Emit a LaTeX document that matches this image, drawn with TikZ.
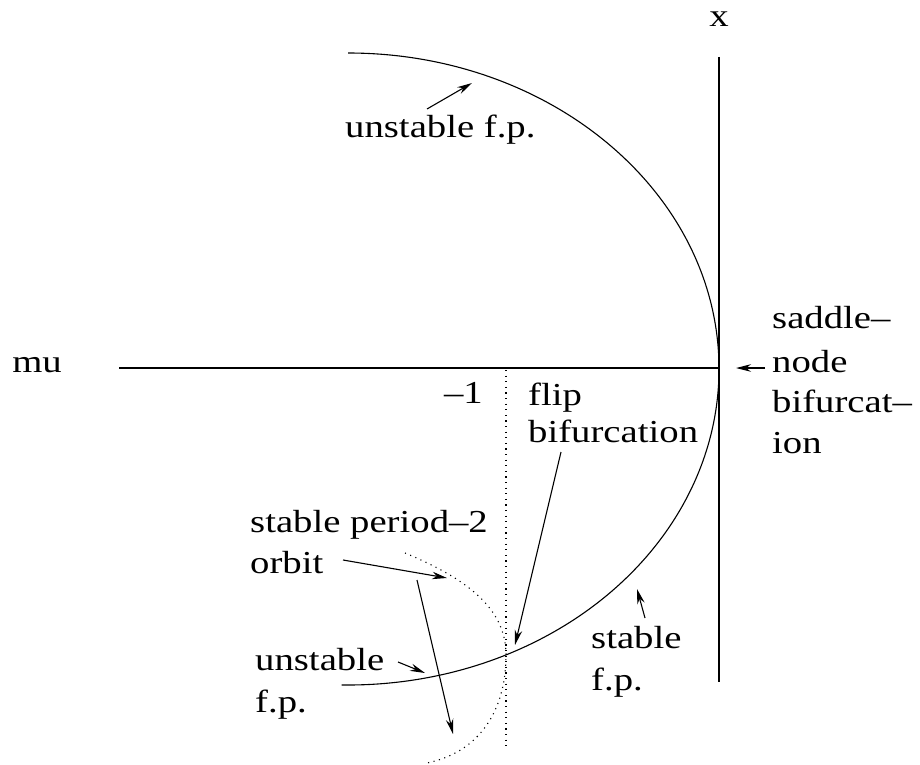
\documentclass[tikz,border=0pt]{standalone}
\usepackage{fontspec}
\setmainfont{Liberation Serif}[FakeStretch=1.21]
\usetikzlibrary{arrows.meta}
\begin{document}
\begin{tikzpicture}[x=1bp,y=-1bp,
  lbl/.style={anchor=base west, inner sep=0pt, font=\fontsize{32bp}{40bp}\selectfont},
  curve/.style={line width=1.1bp},
  axis/.style={line width=1.3bp},
  dots/.style={line width=1.1bp, dash pattern=on 1.1bp off 4.5bp},
  arr/.style={line width=1.1bp, -{Stealth[length=15bp,width=7.5bp]}}]
\useasboundingbox (0,0) rectangle (920,765);
% axes
\coordinate (xtop) at (719,57);
\coordinate (xbot) at (719,682);
\coordinate (mul) at (119,368);
\coordinate (O) at (719,368);
\draw[axis] (xtop) -- (xbot);
\draw[axis] (mul) -- (O);
% fixed point curve
\draw[curve] (348,53) arc[start angle=-90,end angle=91,x radius=371,y radius=316];
% mu = -1 line
\coordinate (dtop) at (506,370);
\coordinate (dbot) at (506,747);
\draw[dots] (dtop) -- (dbot);
% period-2 orbit
\coordinate (p2top) at (405,553);
\coordinate (p2mid) at (506,655);
\coordinate (p2bot) at (427,763);
\draw[dots] (p2top) .. controls (470,580) and (506,610) .. (p2mid)
                    .. controls (506,710) and (480,752) .. (p2bot);
% labels
\node[lbl, anchor=base] (xl) at (719,27) {x};
\node[lbl, anchor=base east] (mu) at (62,372) {mu};
\node[lbl] (ufp) at (345,137) {unstable f.p.};
\node[lbl] (sn1) at (772,328) {saddle--};
\node[lbl] (sn2) at (772,372) {node};
\node[lbl] (sn3) at (772,412) {bifurcat--};
\node[lbl] (sn4) at (772,453) {ion};
\node[lbl, anchor=base east] (m1) at (483,403) {--1};
\node[lbl] (fl1) at (528,405) {flip};
\node[lbl] (fl2) at (528,442) {bifurcation};
\node[lbl] (st1) at (591,648) {stable};
\node[lbl] (st2) at (591,690) {f.p.};
\node[lbl] (po1) at (250,532) {stable period--2};
\node[lbl] (po2) at (250,573) {orbit};
\node[lbl] (us1) at (255,670) {unstable};
\node[lbl] (us2) at (255,712) {f.p.};
% arrows
\coordinate (a1s) at (427,109); \coordinate (a1e) at (472,83);
\coordinate (a2s) at (765,368); \coordinate (a2e) at (736,368);
\coordinate (a3s) at (561,452); \coordinate (a3e) at (515,645);
\coordinate (a4s) at (645,618); \coordinate (a4e) at (637,589);
\coordinate (a5s) at (343,560); \coordinate (a5e) at (447,578);
\coordinate (a6s) at (417,580); \coordinate (a6e) at (453,734);
\coordinate (a7s) at (398,662); \coordinate (a7e) at (425,673);
\draw[arr] (a1s) -- (a1e);
\draw[arr] (a2s) -- (a2e);
\draw[arr] (a3s) -- (a3e);
\draw[arr] (a4s) -- (a4e);
\draw[arr] (a5s) -- (a5e);
\draw[arr] (a6s) -- (a6e);
\draw[arr] (a7s) -- (a7e);
\end{tikzpicture}
\end{document}
